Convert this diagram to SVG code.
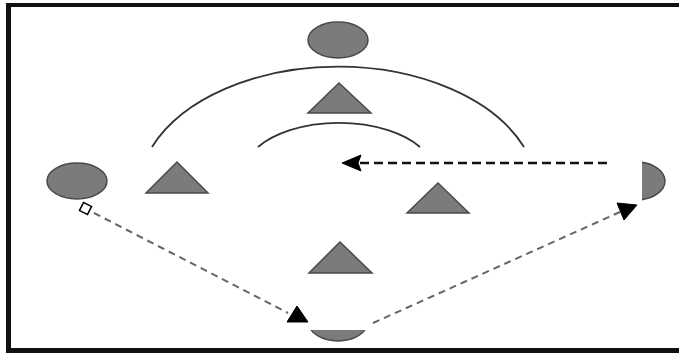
<svg xmlns="http://www.w3.org/2000/svg" width="679" height="353" viewBox="0 0 679 353">
<style>
.shape{fill:#7b7b7b;stroke:#4a4a4a;stroke-width:1.5}
.arc{fill:none;stroke:#333;stroke-width:1.8}
.dash{fill:none;stroke:#666;stroke-width:2;stroke-dasharray:7 5}
.dashdark{fill:none;stroke:#111;stroke-width:2.5;stroke-dasharray:9 5}
.head{fill:#000;stroke:#000;stroke-width:1}
</style>
<defs>
<clipPath id="cr"><rect x="642" y="0" width="40" height="353"/></clipPath>
<clipPath id="cb"><rect x="0" y="330" width="679" height="30"/></clipPath>
</defs>
<rect x="0" y="0" width="679" height="353" fill="#fff"/>
<g id="frame">
<rect x="6" y="3" width="673" height="4" fill="#111"/>
<rect x="6" y="3" width="5" height="350" fill="#111"/>
<rect x="6" y="348" width="673" height="5" fill="#111"/>
</g>
<g id="arcs">
<path class="arc" d="M152,147 A200,127 0 0 1 524,147"/>
<path class="arc" d="M258,147 A96,52 0 0 1 420,147"/>
</g>
<g id="ellipse-top"><ellipse class="shape" cx="338" cy="40" rx="30" ry="18"/></g>
<g id="ellipse-left"><ellipse class="shape" cx="77" cy="181" rx="30" ry="18"/></g>
<g id="ellipse-right"><ellipse class="shape" cx="636" cy="181" rx="29" ry="19" clip-path="url(#cr)"/></g>
<g id="ellipse-bottom"><ellipse class="shape" cx="338" cy="323" rx="29" ry="18" clip-path="url(#cb)"/></g>
<g id="triangle-top"><polygon class="shape" points="339,83 308,113 371,113"/></g>
<g id="triangle-left"><polygon class="shape" points="177,162 146,193 208,193"/></g>
<g id="triangle-right"><polygon class="shape" points="438,183 407,213 469,213"/></g>
<g id="triangle-bottom"><polygon class="shape" points="340,242 309,273 372,273"/></g>
<g id="connectors">
<line class="dashdark" x1="607" y1="163" x2="360" y2="163"/>
<polygon class="head" points="342,163 361,155 358,163 361,171"/>
<line class="dash" x1="94" y1="213" x2="288" y2="313"/>
<rect x="81" y="204" width="9" height="9" fill="#fff" stroke="#000" stroke-width="1.5" transform="rotate(27 85.5 208.5)"/>
<polygon class="head" points="297,306 287,322 308,322"/>
<line class="dash" x1="373" y1="323" x2="620" y2="212"/>
<polygon class="head" points="617,203 637,205 624,220"/>
</g>
</svg>
